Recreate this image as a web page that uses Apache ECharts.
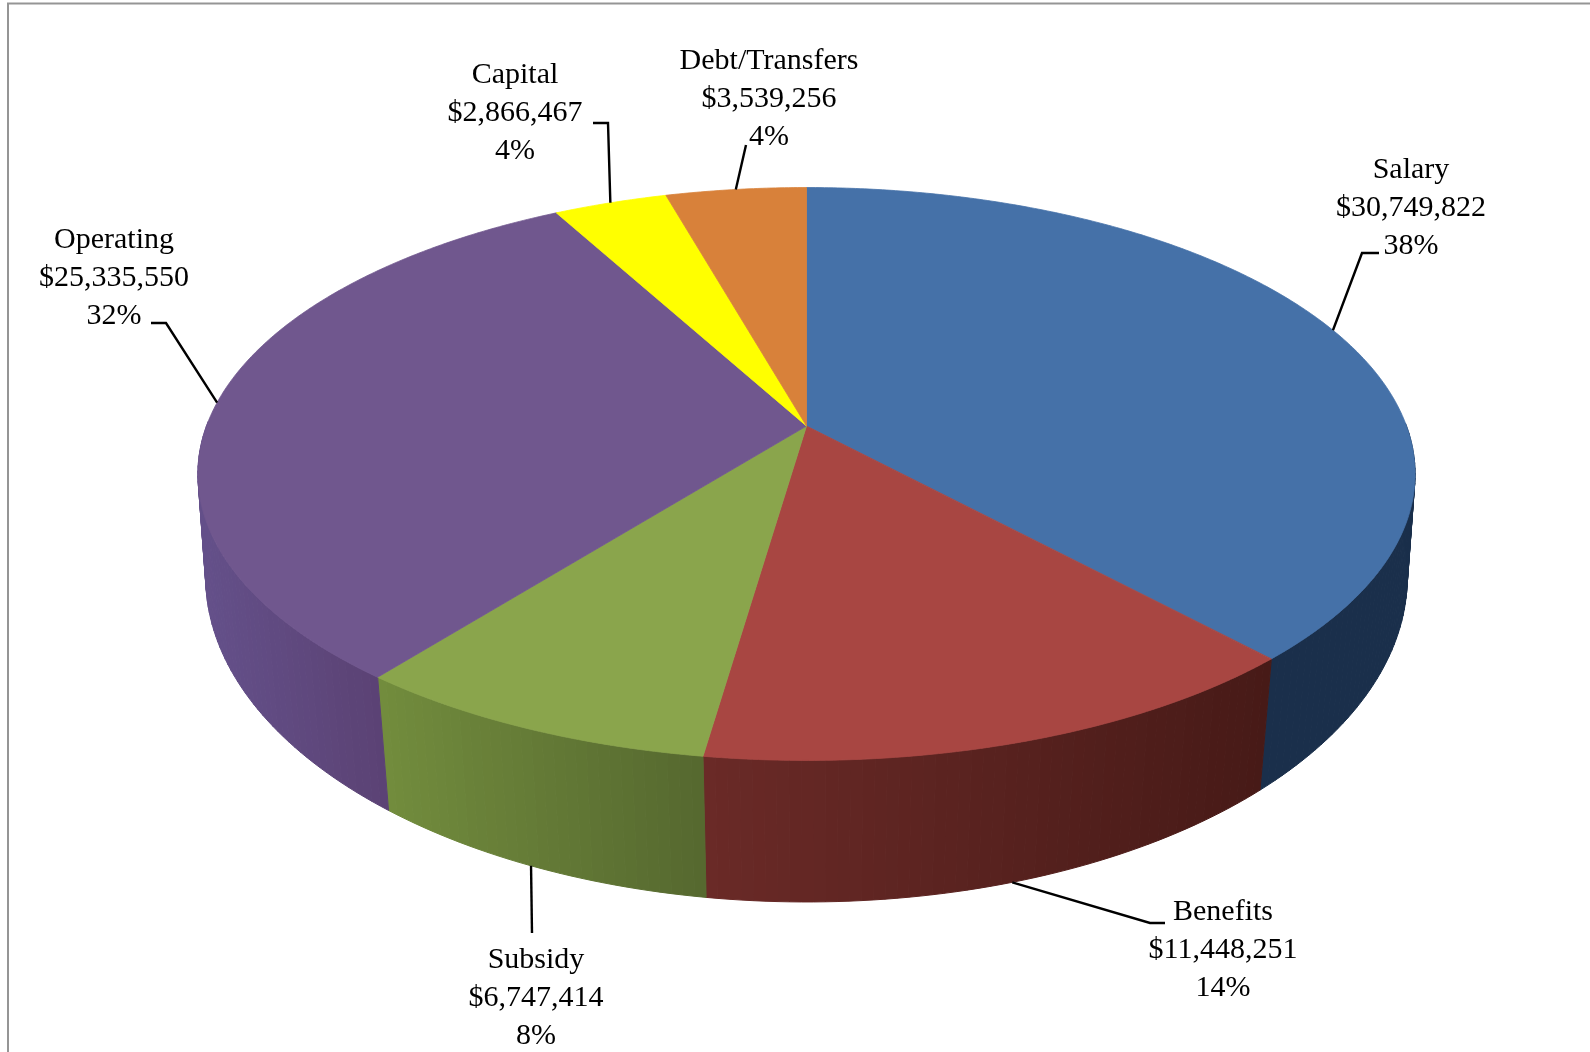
<!DOCTYPE html>
<html>
<head>
<meta charset="utf-8">
<style>html,body{margin:0;padding:0;background:#fff}#chart{width:1590px;height:1052px}</style>
<script src="https://cdn.jsdelivr.net/npm/echarts@6/dist/echarts.min.js"></script>
</head>
<body>
<div id="chart"></div>
<script>
// Budget categories, clockwise from twelve o'clock
const categories = ['Salary', 'Benefits', 'Subsidy', 'Operating', 'Capital', 'Debt/Transfers'];
const amounts = [30749822, 11448251, 6747414, 25335550, 2866467, 3539256];
const percentLabels = ['38%', '14%', '8%', '32%', '4%', '4%'];

// Slice colours: top face, then the rim shade at its left and right ends
const topColors = ['#4571a8', '#a84642', '#8aa54c', '#70578e', '#ffff00', '#d8813a'];
const rimLeft = ['#1a2f4b', '#6a2a27', '#728c3d', '#64508a', '#a6a600', '#8c5426'];
const rimRight = ['#1a2f4b', '#471a17', '#55682f', '#5b4274', '#a6a600', '#8c5426'];

// Label block centres and leader routing, in page pixels
const labelCentres = [[1411, 208], [1223, 950], [536, 998], [114, 278], [515, 113], [769, 99]];
const leaderBends = [
  [[1362, 253], [1379, 253]],
  [[1150, 923], [1165, 923]],
  [[532, 933]],
  [[166, 323], [151, 323]],
  [[608, 123], [593, 123]],
  [[746, 145]]
];
const leaderOnBase = [false, true, true, false, false, false];
const leaderAngleShift = [0, 0, 0.25, 0, 0, 0];

// Perspective discs for the upper and lower faces of the cylinder
const upperDisc = { cx: 806.5, cy: 426, a: 600, b: 278.4, k: 0.1675 };
const lowerDisc = { cx: 806.5, cy: 528.2, a: 594, b: 317.7, k: 0.15 };

const LINE_GAP = 38;
const total = amounts.reduce((s, v) => s + v, 0);
const sliceBounds = [];
amounts.reduce((acc, v) => {
  sliceBounds.push([acc / total * 360, (acc + v) / total * 360]);
  return acc + v;
}, 0);

// Projects a clockwise angle (degrees from the top) on a disc's rim to the page
function rimPoint(disc, deg) {
  const t = deg * Math.PI / 180;
  const u = Math.sin(t), v = -Math.cos(t);
  const w = 1 - disc.k * v;
  return [disc.cx + disc.a * u / w, disc.cy + disc.b * v / w];
}

function arcAngles(start, end, step) {
  const out = [];
  const n = Math.max(1, Math.ceil((end - start) / step));
  for (let i = 0; i <= n; i++) out.push(start + (end - start) * i / n);
  return out;
}

function mix(c1, c2, f) {
  const p = c => [1, 3, 5].map(i => parseInt(c.substr(i, 2), 16));
  const a = p(c1), b = p(c2);
  return 'rgb(' + a.map((x, i) => Math.round(x + (b[i] - x) * f)).join(',') + ')';
}

// Outer wall of a slice: a run of narrow quads between the two rims, front half only
function renderRim(params) {
  const i = params.dataIndex;
  const angles = arcAngles(sliceBounds[i][0], sliceBounds[i][1], 1)
    .filter(d => -Math.cos(d * Math.PI / 180) > -0.02);
  if (angles.length < 2) return { type: 'group', children: [] };
  const xs = angles.map(d => rimPoint(upperDisc, d)[0]);
  const xMin = Math.min(...xs), xMax = Math.max(...xs);
  const children = [];
  for (let j = 0; j < angles.length - 1; j++) {
    const f = xMax > xMin ? ((xs[j] + xs[j + 1]) / 2 - xMin) / (xMax - xMin) : 0;
    const color = mix(rimLeft[i], rimRight[i], f);
    children.push({
      type: 'polygon',
      shape: { points: [
        rimPoint(upperDisc, angles[j]), rimPoint(upperDisc, angles[j + 1]),
        rimPoint(lowerDisc, angles[j + 1]), rimPoint(lowerDisc, angles[j])
      ] },
      style: { fill: color, stroke: color, lineWidth: 1 }
    });
  }
  return { type: 'group', children };
}

// Upper face of a slice, fanning out from the projected hub
function renderTop(params) {
  const i = params.dataIndex;
  const pts = [[upperDisc.cx, upperDisc.cy]];
  arcAngles(sliceBounds[i][0], sliceBounds[i][1], 0.5).forEach(d => pts.push(rimPoint(upperDisc, d)));
  return {
    type: 'polygon',
    shape: { points: pts },
    style: { fill: topColors[i], stroke: topColors[i], lineWidth: 0.8 }
  };
}

// Three-line label and its leader line
function renderLabel(params) {
  const i = params.dataIndex;
  const mid = (sliceBounds[i][0] + sliceBounds[i][1]) / 2 + leaderAngleShift[i];
  const anchor = rimPoint(leaderOnBase[i] ? lowerDisc : upperDisc, mid);
  const lines = [categories[i], '$' + amounts[i].toLocaleString('en-US'), percentLabels[i]];
  const [cx, cy] = labelCentres[i];
  const children = [{
    type: 'polyline',
    shape: { points: [anchor].concat(leaderBends[i]) },
    style: { stroke: '#000', lineWidth: 2.4, fill: null }
  }];
  lines.forEach((line, n) => children.push({
    type: 'text',
    style: {
      text: line, x: cx, y: cy + (n - 1) * LINE_GAP,
      align: 'center', verticalAlign: 'middle',
      font: '30px "Liberation Serif"', fill: '#000'
    }
  }));
  return { type: 'group', children };
}

const chart = echarts.init(document.getElementById('chart'), null, { renderer: 'canvas' });
const seriesData = categories.map((name, i) => ({ name, value: amounts[i] }));
const frameStyle = { stroke: '#959595', lineWidth: 2 };
chart.setOption({
  animation: false,
  backgroundColor: '#fff',
  // Chart-area border: only its top and left edges fall inside the page
  graphic: [
    { type: 'polyline', silent: true, shape: { points: [[8, 1052], [8, 3.5], [1590, 3.5]] }, style: { fill: null, ...frameStyle } }
  ],
  series: [
    { type: 'custom', coordinateSystem: 'none', renderItem: renderRim, data: seriesData, silent: true },
    { type: 'custom', coordinateSystem: 'none', renderItem: renderTop, data: seriesData, silent: true },
    { type: 'custom', coordinateSystem: 'none', renderItem: renderLabel, data: seriesData, silent: true }
  ]
});
</script>
</body>
</html>
